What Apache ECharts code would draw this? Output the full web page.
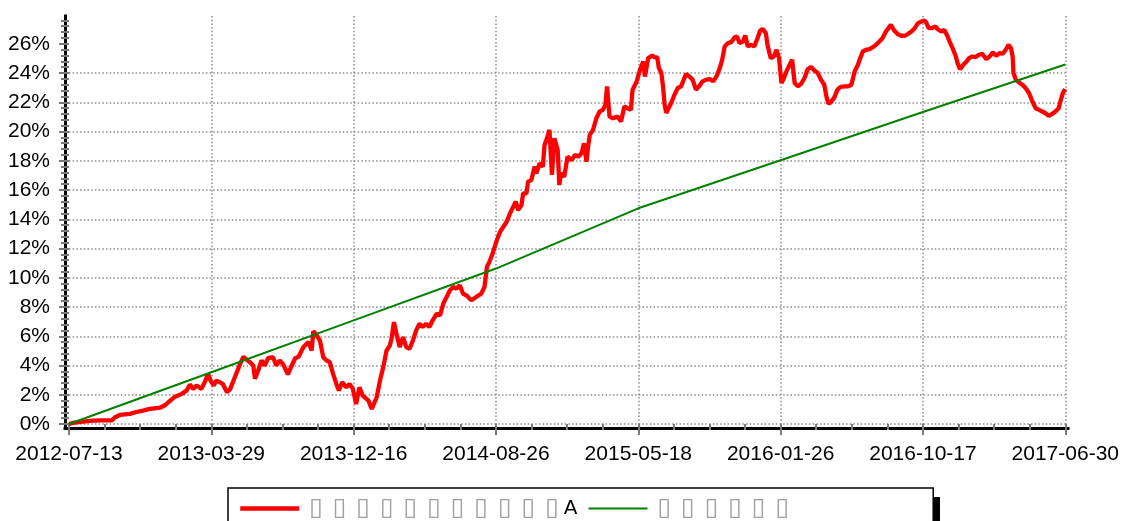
<!DOCTYPE html>
<html><head><meta charset="utf-8">
<script src="https://cdn.jsdelivr.net/npm/echarts@6/dist/echarts.min.js"></script>
<style>html,body{margin:0;padding:0;background:#fff}#c{width:1122px;height:521px}</style>
</head><body><div id="c"></div>
<script>
// tick labels (trading-day axis, one label every 173 trading days)
const tickLabels = ['2012-07-13','2013-03-29','2013-12-16','2014-08-26','2015-05-18','2016-01-26','2016-10-17','2017-06-30'];
const dayStep = 173;
const seriesNames = ['▯▯▯▯▯▯▯▯▯▯▯A', '▯▯▯▯▯▯'];

// red series: trading-day index and cumulative return (%)
const redDays = [0,7,17,29,41,52,56,62,74,82,90,98,111,117,123,129,137,143,147,151,155,161,165,169,172,176,179,183,187,192,196,200,204,208,212,216,220,224,226,230,234,238,242,248,252,256,260,266,270,275,279,285,291,295,297,301,305,309,313,317,321,325,328,332,337,341,345,349,353,357,364,368,370,374,378,382,386,390,392,395,398,402,406,410,414,418,422,426,430,434,438,442,447,451,455,459,463,467,471,475,479,483,489,495,501,505,508,511,515,520,524,528,532,536,540,543,546,550,552,556,558,562,566,568,572,576,578,581,584,587,590,594,596,598,602,606,611,615,619,623,626,629,631,633,637,641,645,649,652,654,657,661,667,671,675,679,683,685,690,694,698,700,704,706,709,712,715,717,720,722,724,726,728,732,736,740,744,748,750,754,758,762,766,770,775,779,783,787,791,794,797,801,805,809,812,815,819,822,825,829,833,837,840,843,847,849,853,857,860,863,866,869,872,876,879,882,886,890,894,898,902,906,910,914,918,921,923,926,930,934,938,943,947,951,955,959,961,965,969,973,977,981,985,989,993,997,999,1003,1007,1011,1016,1020,1024,1028,1032,1036,1040,1042,1045,1049,1053,1057,1061,1064,1068,1070,1074,1078,1080,1083,1087,1091,1094,1098,1102,1106,1110,1115,1119,1123,1127,1131,1135,1138,1142,1145,1147,1148,1151,1155,1159,1163,1167,1171,1175,1179,1183,1187,1191,1195,1199,1203,1205,1208,1211];
const redValues = [0,0.1,0.16,0.23,0.25,0.25,0.46,0.62,0.69,0.82,0.91,1.03,1.12,1.3,1.6,1.87,2.06,2.29,2.7,2.4,2.63,2.4,2.86,3.43,2.97,2.63,2.97,2.86,2.74,2.17,2.4,2.97,3.54,4.11,4.6,4.39,4.23,4.0,3.09,3.66,4.34,4.0,4.5,4.57,4.0,4.34,4.11,3.4,3.9,4.5,4.6,5.26,5.6,5.03,6.35,6.06,5.71,4.57,4.34,4.23,3.43,2.74,2.29,2.86,2.51,2.74,2.4,1.37,2.51,1.94,1.6,1.03,0.96,1.83,2.97,3.89,5.03,5.37,5.83,6.97,6.17,5.26,5.94,5.26,5.14,5.71,6.4,6.86,6.63,6.86,6.63,7.09,7.54,7.43,8.23,8.69,9.14,9.37,9.26,9.49,8.91,8.8,8.46,8.69,8.91,9.37,10.74,11.09,11.66,12.57,13.15,13.49,13.83,14.4,14.86,15.2,14.63,14.97,15.77,15.77,16.57,16.68,17.6,17.14,17.82,17.6,19.08,19.54,20.11,17.03,19.54,18.74,16.34,17.14,16.91,18.28,18.05,18.4,18.28,18.51,19.2,17.94,18.97,19.77,20.11,20.91,21.37,21.48,21.82,23.08,21.02,20.91,21.02,20.68,21.71,21.59,21.48,22.85,23.42,24.22,24.79,23.76,25.02,25.14,25.2,25.07,25.07,24.34,24.0,23.09,21.84,21.27,21.5,21.95,22.52,22.98,23.09,23.66,23.93,23.77,23.55,22.86,23.09,23.43,23.55,23.59,23.43,23.77,24.34,24.91,25.82,26.05,26.11,26.43,26.5,26.05,26.16,26.57,25.82,25.93,25.82,26.39,26.89,27.02,26.73,25.93,25.02,25.14,25.59,25.02,23.32,23.66,24.11,24.57,24.91,23.32,23.09,23.27,23.66,24.27,24.41,24.18,24.0,23.55,23.2,22.3,21.91,22.0,22.3,22.86,23.05,23.09,23.09,23.2,24.11,24.57,24.91,25.48,25.59,25.64,25.77,25.93,26.16,26.39,26.84,27.14,27.3,26.91,26.68,26.55,26.55,26.68,26.84,27.07,27.41,27.52,27.59,27.45,27.07,27.07,27.18,26.95,26.84,26.95,26.5,26.2,25.7,25.13,24.68,24.26,24.56,24.79,25.02,25.13,25.09,25.25,25.32,24.95,25.13,25.41,25.18,25.36,25.32,25.54,25.93,25.7,25.13,24.0,23.53,23.35,23.19,22.96,22.62,22.05,21.59,21.48,21.37,21.25,21.07,21.2,21.37,21.59,22.05,22.62,22.9];

// green series: benchmark (%)
const greenDays = [0,173,346,519,692,865,1038,1211];
const greenValues = [0,3.54,7.09,10.63,14.75,18.04,21.34,24.58];

const yTicks = [0,2,4,6,8,10,12,14,16,18,20,22,24,26];

const chart = echarts.init(document.getElementById('c'), null, {renderer:'canvas'});
const dotted = {color:'#8a8a8a', width:1.5, type:[1.5,2.2]};
const tickStyle = {color:'#7a7a7a', width:2};
const font = 'Liberation Sans, Arial, sans-serif';

function legendFmt(name){
  return name.split('').map(ch => ch === 'A' ? '{a|A}' : '{t|' + ch + '}').join('');
}

chart.setOption({
  animation:false,
  backgroundColor:'#fff',
  grid:[
    {left:69, right:56, top:16, bottom:97},
    {left:65, right:54, top:16, bottom:93}
  ],
  graphic:[
    {type:'rect', z:1, left:235, top:497, shape:{width:705, height:40}, style:{fill:'#000'}}
  ],
  legend:{
    data:[
      {name:seriesNames[0], lineStyle:{width:4.5, color:'#ff0000'}},
      {name:seriesNames[1], lineStyle:{width:2, color:'#008000'}}
    ],
    left:228, top:488,
    padding:[8,144,40,10],
    itemWidth:59, itemHeight:14, itemGap:10,
    backgroundColor:'#fff', borderColor:'#000', borderWidth:1.5,
    itemStyle:{color:'rgba(0,0,0,0)', borderWidth:0, opacity:0},
    formatter:legendFmt,
    textStyle:{
      rich:{
        t:{width:23.6, align:'center', color:'#a0a0a0', fontFamily:'DejaVu Sans', fontSize:25},
        a:{color:'#000', fontFamily:'DejaVu Sans', fontSize:20}
      }
    }
  },
  xAxis:[
    {type:'value', gridIndex:0, min:0, max:1211, interval:dayStep, offset:4,
     axisLine:{show:false},
     axisTick:{show:true, length:11, lineStyle:tickStyle},
     minorTick:{show:true, splitNumber:4, length:6, lineStyle:tickStyle},
     axisLabel:{formatter:v => tickLabels[Math.round(v/dayStep)] || '', fontSize:21, fontFamily:font, color:'#000', margin:16},
     splitLine:{show:true, showMinLine:false, lineStyle:dotted}},
    {type:'value', gridIndex:1, min:0, max:1, axisLine:{show:true, lineStyle:{color:'#000', width:3, cap:'square'}},
     axisTick:{show:false}, axisLabel:{show:false}, splitLine:{show:false}}
  ],
  yAxis:[
    {type:'value', gridIndex:0, min:0, max:27.9, interval:2, offset:4,
     axisLine:{show:false},
     axisTick:{show:true, length:10, lineStyle:tickStyle, customValues:yTicks},
     minorTick:{show:true, splitNumber:5, length:8, lineStyle:tickStyle},
     axisLabel:{formatter:v => v + '%', fontSize:21, fontFamily:font, color:'#000', margin:15, showMaxLabel:false},
     splitLine:{show:true, showMaxLine:false, lineStyle:dotted}},
    {type:'value', gridIndex:1, min:0, max:1, axisLine:{show:true, lineStyle:{color:'#000', width:3, cap:'square'}},
     axisTick:{show:false}, axisLabel:{show:false}, splitLine:{show:false}}
  ],
  series:[
    {name:seriesNames[0], type:'line', xAxisIndex:0, yAxisIndex:0, symbol:'none',
     data:redDays.map((d,i)=>[d, redValues[i]]),
     lineStyle:{color:'#ff0000', width:4.3}, itemStyle:{color:'#ff0000'}},
    {name:seriesNames[1], type:'line', xAxisIndex:0, yAxisIndex:0, symbol:'none',
     data:greenDays.map((d,i)=>[d, greenValues[i]]),
     lineStyle:{color:'#008000', width:2}, itemStyle:{color:'#008000'}}
  ]
});
</script></body></html>
